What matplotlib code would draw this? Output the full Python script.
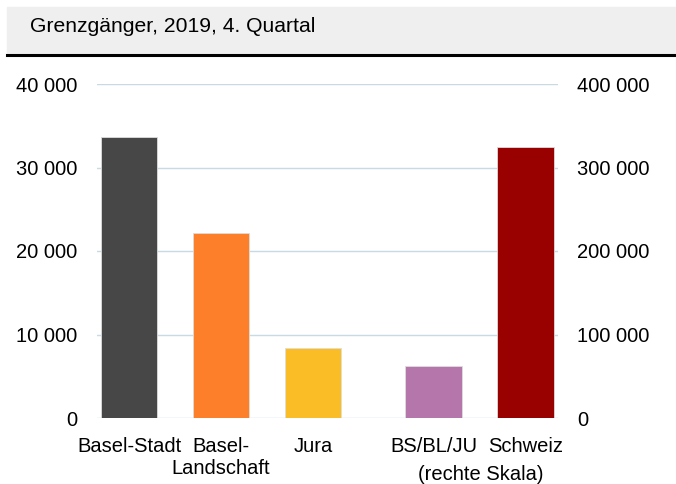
import matplotlib.pyplot as plt
from matplotlib.patches import Rectangle
from matplotlib.lines import Line2D
from matplotlib.transforms import blended_transform_factory

plt.rcParams["font.family"] = ["Liberation Sans", "DejaVu Sans"]

kategorien = ["Basel-Stadt", "Basel-\nLandschaft", "Jura", "BS/BL/JU", "Schweiz"]
werte_links = [33600, 22100, 8400]
werte_rechts = [62700, 324000]
farben = ["#474747", "#fe7f29", "#fbbd26", "#b476ab", "#990000"]
ticks_links = [0, 10000, 20000, 30000, 40000]
ticks_rechts = [0, 100000, 200000, 300000, 400000]

pos = [0, 1, 2, 3.31, 4.31]
breite = 0.61
fs = 14.5


def fmt(v):
    return f"{v:,}".replace(",", " ")


fig = plt.figure(figsize=(6.76, 4.84), dpi=100)

# Titelband
fig.patches.append(Rectangle((7 / 676, 1 - 55 / 484), 1, 48 / 484,
                             transform=fig.transFigure, color="#efefef", zorder=0))
fig.lines.append(Line2D([7 / 676, 1], [1 - 55 / 484, 1 - 55 / 484],
                        transform=fig.transFigure, color="black", lw=2.2))
fig.text(30 / 676, 1 - 27 / 484, "Grenzgänger, 2019, 4. Quartal",
         fontsize=15.2, va="center", ha="left")

ax = fig.add_axes([97 / 676, 1 - 418 / 484, 461 / 676, 334 / 484])
ax2 = ax.twinx()

ax.bar(pos[:3], werte_links, width=breite, color=farben[:3],
       edgecolor="#dddddd", linewidth=0.6, zorder=3)
ax2.bar(pos[3:], werte_rechts, width=breite, color=farben[3:],
        edgecolor="#dddddd", linewidth=0.6, zorder=3)

ax.set_ylim(0, 40000)
ax2.set_ylim(0, 400000)
ax.set_xlim(-0.348, 4.663)

ax.set_yticks(ticks_links)
ax.set_yticklabels([fmt(v) for v in ticks_links], fontsize=fs)
ax2.set_yticks(ticks_rechts)
ax2.set_yticklabels([fmt(v) for v in ticks_rechts], fontsize=fs)

ax.set_xticks(pos)
ax.set_xticklabels(kategorien, fontsize=fs, linespacing=1.2)

for a in (ax, ax2):
    for s in a.spines.values():
        s.set_visible(False)
    a.tick_params(length=0)
ax.tick_params(axis="y", pad=14)
ax2.tick_params(axis="y", pad=13.5)
ax.tick_params(axis="x", pad=14)

ax.grid(axis="y", color="#c8dbe4", lw=1, zorder=0)
ax.set_axisbelow(True)

trans = blended_transform_factory(ax.transData, ax.transAxes)
ax.text(3.82, -0.14, "(rechte Skala)", transform=trans, ha="center", va="top",
        fontsize=fs)

fig.savefig("out.png", dpi=100)
